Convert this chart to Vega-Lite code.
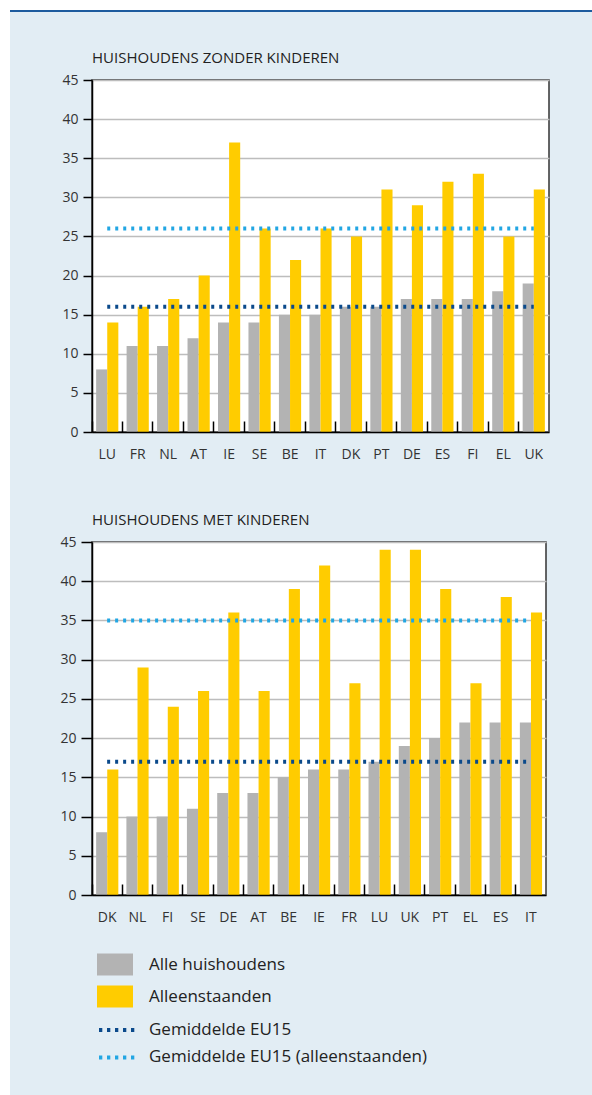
{
  "$schema": "https://vega.github.io/schema/vega-lite/v6.json",
  "background": "#e2edf4",
  "padding": 0,
  "spacing": 0,
  "config": {
    "font": "Open Sans",
    "view": {"fill": "white", "stroke": "#333333", "strokeWidth": 1.5},
    "title": {"anchor": "start", "frame": "group", "fontSize": 15, "fontWeight": "normal", "color": "#222222", "font": "Open Sans", "offset": 7},
    "axis": {"labelFont": "Open Sans", "labelFontSize": 14, "labelColor": "#333333", "title": null, "domainColor": "#000000", "domainWidth": 1.5, "tickColor": "#000000", "tickWidth": 1.5},
    "axisX": {"tickSize": -11, "labelPadding": 26, "labelAngle": 0, "grid": false},
    "axisY": {"values": [0, 5, 10, 15, 20, 25, 30, 35, 40, 45], "labelPadding": 5, "gridColor": "#bdbdbd", "gridWidth": 1.5},
    "legend": {"padding": 0, "labelFont": "Open Sans", "labelFontSize": 17, "labelColor": "#222222", "labelLimit": 400, "symbolSize": 484}
  },
  "datasets": {
    "zonder": [
      {"panel": "zonder", "country": "LU", "Alle huishoudens": 8, "Alleenstaanden": 14},
      {"panel": "zonder", "country": "FR", "Alle huishoudens": 11, "Alleenstaanden": 16},
      {"panel": "zonder", "country": "NL", "Alle huishoudens": 11, "Alleenstaanden": 17},
      {"panel": "zonder", "country": "AT", "Alle huishoudens": 12, "Alleenstaanden": 20},
      {"panel": "zonder", "country": "IE", "Alle huishoudens": 14, "Alleenstaanden": 37},
      {"panel": "zonder", "country": "SE", "Alle huishoudens": 14, "Alleenstaanden": 26},
      {"panel": "zonder", "country": "BE", "Alle huishoudens": 15, "Alleenstaanden": 22},
      {"panel": "zonder", "country": "IT", "Alle huishoudens": 15, "Alleenstaanden": 26},
      {"panel": "zonder", "country": "DK", "Alle huishoudens": 16, "Alleenstaanden": 25},
      {"panel": "zonder", "country": "PT", "Alle huishoudens": 16, "Alleenstaanden": 31},
      {"panel": "zonder", "country": "DE", "Alle huishoudens": 17, "Alleenstaanden": 29},
      {"panel": "zonder", "country": "ES", "Alle huishoudens": 17, "Alleenstaanden": 32},
      {"panel": "zonder", "country": "FI", "Alle huishoudens": 17, "Alleenstaanden": 33},
      {"panel": "zonder", "country": "EL", "Alle huishoudens": 18, "Alleenstaanden": 25},
      {"panel": "zonder", "country": "UK", "Alle huishoudens": 19, "Alleenstaanden": 31}
    ],
    "met": [
      {"panel": "met", "country": "DK", "Alle huishoudens": 8, "Alleenstaanden": 16},
      {"panel": "met", "country": "NL", "Alle huishoudens": 10, "Alleenstaanden": 29},
      {"panel": "met", "country": "FI", "Alle huishoudens": 10, "Alleenstaanden": 24},
      {"panel": "met", "country": "SE", "Alle huishoudens": 11, "Alleenstaanden": 26},
      {"panel": "met", "country": "DE", "Alle huishoudens": 13, "Alleenstaanden": 36},
      {"panel": "met", "country": "AT", "Alle huishoudens": 13, "Alleenstaanden": 26},
      {"panel": "met", "country": "BE", "Alle huishoudens": 15, "Alleenstaanden": 39},
      {"panel": "met", "country": "IE", "Alle huishoudens": 16, "Alleenstaanden": 42},
      {"panel": "met", "country": "FR", "Alle huishoudens": 16, "Alleenstaanden": 27},
      {"panel": "met", "country": "LU", "Alle huishoudens": 17, "Alleenstaanden": 44},
      {"panel": "met", "country": "UK", "Alle huishoudens": 19, "Alleenstaanden": 44},
      {"panel": "met", "country": "PT", "Alle huishoudens": 20, "Alleenstaanden": 39},
      {"panel": "met", "country": "EL", "Alle huishoudens": 22, "Alleenstaanden": 27},
      {"panel": "met", "country": "ES", "Alle huishoudens": 22, "Alleenstaanden": 38},
      {"panel": "met", "country": "IT", "Alle huishoudens": 22, "Alleenstaanden": 36}
    ],
    "avgs": [
      {"panel": "zonder", "Gemiddelde EU15": 16, "Gemiddelde EU15 (alleenstaanden)": 26},
      {"panel": "met", "Gemiddelde EU15": 17, "Gemiddelde EU15 (alleenstaanden)": 35}
    ]
  },
  "hconcat": [
    {"width": 10, "height": 1095, "data": {"values": []}, "mark": "rect", "view": {"fill": "white", "stroke": null}},
    {
      "spacing": 0,
      "vconcat": [
        {"width": 582, "height": 10, "data": {"values": []}, "mark": "rect", "view": {"fill": "white", "stroke": null}},
        {"width": 582, "height": 2, "data": {"values": []}, "mark": "rect", "view": {"fill": "#1d5b9e", "stroke": null}},
        {"width": 1, "height": 38, "data": {"values": []}, "mark": "rect", "view": {"fill": "transparent", "stroke": null}},
        {
          "spacing": 0,
          "hconcat": [
            {"width": 49, "height": 1, "data": {"values": []}, "mark": "rect", "view": {"fill": "transparent", "stroke": null}},
            {
              "spacing": 50,
              "vconcat": [
                {
                  "data": {"name": "zonder"},
                  "width": 457,
                  "height": 352,
                  "title": {"text": "HUISHOUDENS ZONDER KINDEREN"},
                  "encoding": {
                    "x": {"field": "country", "type": "nominal", "sort": null, "scale": {"paddingInner": 0, "paddingOuter": 0}, "axis": {"bandPosition": 0, "zindex": 1}},
                    "y": {"field": "value", "type": "quantitative", "scale": {"domain": [0, 45], "nice": false}, "axis": {"tickSize": 9}}
                  },
                  "layer": [
                    {
                      "transform": [{"fold": ["Alle huishoudens", "Alleenstaanden"], "as": ["series", "value"]}],
                      "mark": {"type": "bar"},
                      "encoding": {
                        "xOffset": {"field": "series", "type": "nominal", "sort": ["Alle huishoudens", "Alleenstaanden"], "scale": {"paddingInner": 0, "paddingOuter": 0.3725}},
                        "fill": {"field": "series", "type": "nominal", "scale": {"domain": ["Alle huishoudens", "Alleenstaanden"], "range": ["#b3b3b3", "#ffcc00"]},
                          "legend": {"title": null, "orient": "none", "direction": "vertical", "legendX": 104, "legendY": 953.5, "symbolType": "M-1.636,-1H1.636V1H-1.636Z", "symbolStrokeWidth": 0, "rowPadding": 10, "labelOffset": 23}}
                      }
                    },
                    {
                      "transform": [
                        {"lookup": "panel", "from": {"data": {"name": "avgs"}, "key": "panel", "fields": ["Gemiddelde EU15", "Gemiddelde EU15 (alleenstaanden)"]}},
                        {"fold": ["Gemiddelde EU15", "Gemiddelde EU15 (alleenstaanden)"], "as": ["line", "value"]}
                      ],
                      "mark": {"type": "line", "strokeDash": [3, 5], "strokeWidth": 4, "strokeCap": "butt"},
                      "encoding": {
                        "order": {"value": null},
                        "stroke": {"field": "line", "type": "nominal", "scale": {"domain": ["Gemiddelde EU15", "Gemiddelde EU15 (alleenstaanden)"], "range": ["#0b4a8b", "#22a6e3"]},
                          "legend": {"title": null, "orient": "none", "direction": "vertical", "legendX": 104, "legendY": 1017, "symbolType": "M-1.636,0H1.636", "symbolStrokeWidth": 4, "symbolDash": [3.3, 4.7], "rowPadding": 6.4, "labelOffset": 19}}
                      }
                    }
                  ]
                },
                {
                  "data": {"name": "met"},
                  "width": 454,
                  "height": 353,
                  "title": {"text": "HUISHOUDENS MET KINDEREN"},
                  "encoding": {
                    "x": {"field": "country", "type": "nominal", "sort": null, "scale": {"paddingInner": 0, "paddingOuter": 0}, "axis": {"bandPosition": 0, "zindex": 1}},
                    "y": {"field": "value", "type": "quantitative", "scale": {"domain": [0, 45], "nice": false}, "axis": {"tickSize": 11}}
                  },
                  "layer": [
                    {
                      "transform": [{"fold": ["Alle huishoudens", "Alleenstaanden"], "as": ["series", "value"]}],
                      "mark": {"type": "bar"},
                      "encoding": {
                        "xOffset": {"field": "series", "type": "nominal", "sort": ["Alle huishoudens", "Alleenstaanden"], "scale": {"paddingInner": 0, "paddingOuter": 0.3725}},
                        "fill": {"field": "series", "type": "nominal", "scale": {"domain": ["Alle huishoudens", "Alleenstaanden"], "range": ["#b3b3b3", "#ffcc00"]},
                          "legend": {"title": null, "orient": "none", "direction": "vertical", "legendX": 104, "legendY": 953.5, "symbolType": "M-1.636,-1H1.636V1H-1.636Z", "symbolStrokeWidth": 0, "rowPadding": 10, "labelOffset": 23}}
                      }
                    },
                    {
                      "transform": [
                        {"lookup": "panel", "from": {"data": {"name": "avgs"}, "key": "panel", "fields": ["Gemiddelde EU15", "Gemiddelde EU15 (alleenstaanden)"]}},
                        {"fold": ["Gemiddelde EU15", "Gemiddelde EU15 (alleenstaanden)"], "as": ["line", "value"]}
                      ],
                      "mark": {"type": "line", "strokeDash": [3, 5], "strokeWidth": 4, "strokeCap": "butt"},
                      "encoding": {
                        "order": {"value": null},
                        "stroke": {"field": "line", "type": "nominal", "scale": {"domain": ["Gemiddelde EU15", "Gemiddelde EU15 (alleenstaanden)"], "range": ["#0b4a8b", "#22a6e3"]},
                          "legend": {"title": null, "orient": "none", "direction": "vertical", "legendX": 104, "legendY": 1017, "symbolType": "M-1.636,0H1.636", "symbolStrokeWidth": 4, "symbolDash": [3.3, 4.7], "rowPadding": 6.4, "labelOffset": 19}}
                      }
                    }
                  ]
                }
              ]
            }
          ]
        }
      ]
    }
  ]
}
